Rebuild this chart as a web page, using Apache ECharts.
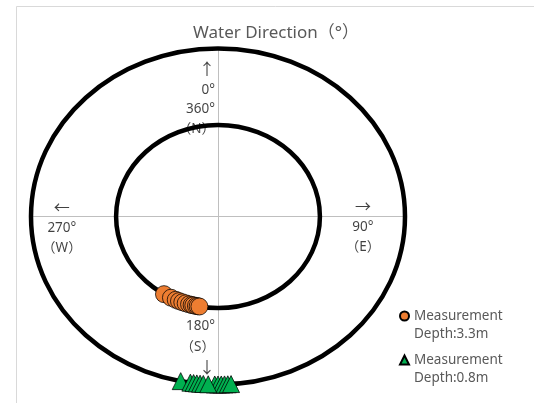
<!DOCTYPE html>
<html><head><meta charset="utf-8">
<script src="https://cdn.jsdelivr.net/npm/echarts@6/dist/echarts.min.js"></script>
<style>html,body{margin:0;padding:0;background:#fff}#c{width:534px;height:403px}</style>
</head><body><div id="c"></div>
<script>
// ---- data ----
const ringRadii = [1.09, 2];                 // inner ring: 3.3 m, outer ring: 0.8 m
const deepDirections = [212, 207.5, 204.5, 202.5, 200.5, 198.5, 196.5, 195, 194, 192.5, 191.5, 190.5];
const shallowDirections = [191.5, 188.5, 187.5, 186.5, 185.5, 184.5, 181, 180, 179, 178, 177, 176, 183];
const seriesNames = ['Measurement\nDepth:3.3m', 'Measurement\nDepth:0.8m'];
const compassLabels = ['↑\n0°\n360°\n（N）', '←\n270°\n（W）', '→\n90°\n（E）', '180°\n（S）\n↓'];
const titleText = 'Water Direction（°）';

const FONT = "'Noto Sans', 'Noto Sans CJK JP', 'DejaVu Sans', sans-serif";
function toXY(deg, r) {
  const a = deg * Math.PI / 180;
  return [r * Math.sin(a), r * Math.cos(a)];
}
function arrowRich(s) {
  return s.replace(/([←↑→↓])/g, '{a|$1}');
}

const legendText = {fontSize: 13.5, color: '#595959', lineHeight: 18, fontFamily: FONT};
const chart = echarts.init(document.getElementById('c'), null, {renderer: 'canvas'});
chart.setOption({
  animation: false,
  backgroundColor: '#fff',
  title: {
    text: titleText, left: 271, top: 20, textAlign: 'center',
    textStyle: {fontSize: 17, fontWeight: 'normal', color: '#595959', fontFamily: FONT}
  },
  graphic: [{
    type: 'rect', silent: true, z: -10,
    shape: {x: 16.5, y: 6.5, width: 530, height: 420},
    style: {fill: 'none', stroke: '#D9D9D9', lineWidth: 1}
  }],
  legend: [{
    data: [seriesNames[0]], left: 394, top: 284, orient: 'vertical',
    itemWidth: 9, itemHeight: 9, selectedMode: false,
    formatter: n => '\n' + n, textStyle: legendText
  }, {
    data: [seriesNames[1]], left: 394, top: 328, orient: 'vertical',
    itemWidth: 9, itemHeight: 9, selectedMode: false,
    formatter: n => '\n' + n, textStyle: legendText
  }],
  grid: {left: 31, top: 48.5, width: 374, height: 336},
  xAxis: {
    type: 'value', min: -2, max: 2,
    axisLine: {show: true, onZero: true, lineStyle: {color: '#BFBFBF', width: 1}},
    axisTick: {show: false}, axisLabel: {show: false}, splitLine: {show: false}
  },
  yAxis: {
    type: 'value', min: -2, max: 2,
    axisLine: {show: true, onZero: true, lineStyle: {color: '#BFBFBF', width: 1}},
    axisTick: {show: false}, axisLabel: {show: false}, splitLine: {show: false}
  },
  series: [{
    type: 'custom', name: 'rings', silent: true, z: 2,
    data: ringRadii.map(r => [r, 0]),
    renderItem: function (params, api) {
      const c = api.coord([0, 0]);
      const s = api.size([api.value(0), api.value(0)]);
      return {
        type: 'ellipse',
        shape: {cx: c[0], cy: c[1], rx: s[0], ry: s[1]},
        style: {fill: 'none', stroke: '#000', lineWidth: 4.5}
      };
    }
  }, {
    type: 'scatter', name: 'labels', silent: true, z: 1,
    symbolSize: 0,
    label: {
      show: true, fontSize: 13.5, color: '#111', lineHeight: 19.5, fontFamily: FONT,
      rich: {a: {fontSize: 16, lineHeight: 19.5, color: '#111', fontFamily: FONT}}
    },
    data: [
      {value: [-0.032, 1.39], label: {formatter: arrowRich(compassLabels[0]), position: 'left', distance: 0}},
      {value: [-1.67, -0.14], label: {formatter: arrowRich(compassLabels[1]), position: 'inside'}},
      {value: [1.55, -0.13], label: {formatter: arrowRich(compassLabels[2]), position: 'inside'}},
      {value: [-0.032, -1.56], label: {formatter: arrowRich(compassLabels[3]), position: 'left', distance: 0, lineHeight: 21, rich: {a: {fontSize: 16, lineHeight: 21}}}}
    ]
  }, {
    type: 'scatter', name: seriesNames[0], z: 5,
    symbol: 'circle', symbolSize: 17,
    itemStyle: {color: '#ED7D31', borderColor: '#000', borderWidth: 0.75, opacity: 1},
    data: deepDirections.map(d => toXY(d, ringRadii[0]))
  }, {
    type: 'scatter', name: seriesNames[1], z: 6,
    symbol: 'triangle', symbolSize: 17,
    itemStyle: {color: '#00B050', borderColor: '#000', borderWidth: 0.75, opacity: 1},
    data: shallowDirections.map(d => toXY(d, ringRadii[1]))
  }]
});
</script>
</body></html>
